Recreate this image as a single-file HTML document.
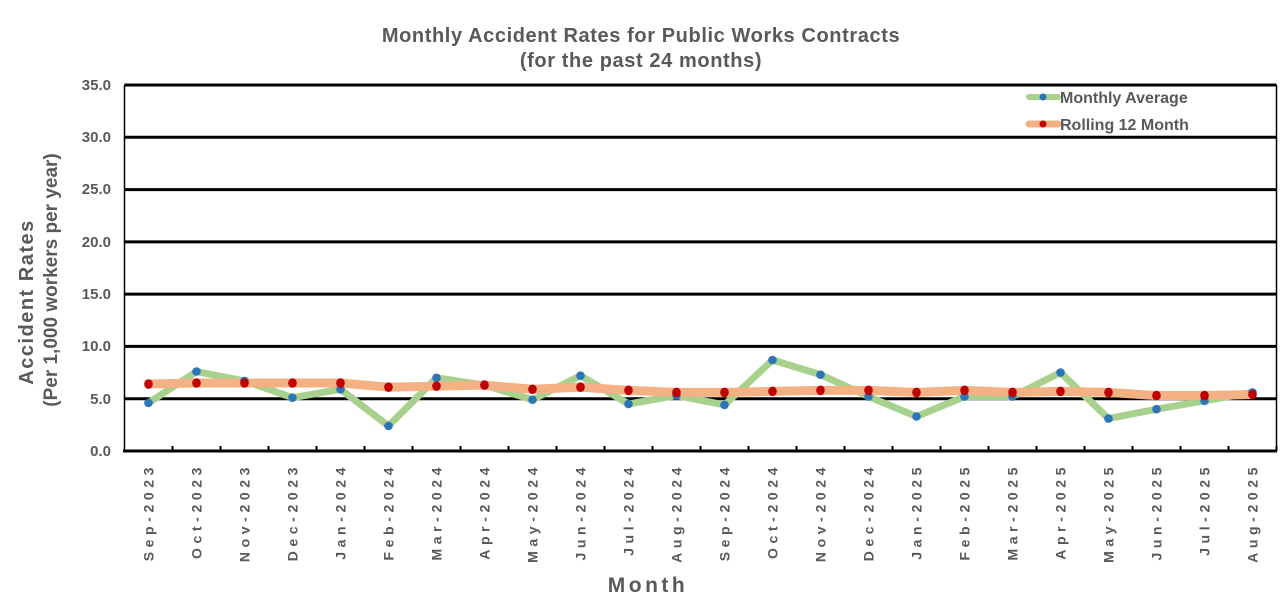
<!DOCTYPE html>
<html><head><meta charset="utf-8"><style>
html,body{margin:0;padding:0;background:#fff;}
svg{display:block;font-family:"Liberation Sans",Arial,sans-serif;}
</style></head><body>
<svg width="1288" height="611" viewBox="0 0 1288 611" xmlns="http://www.w3.org/2000/svg">
<rect width="1288" height="611" fill="#fff"/>
<text x="641" y="42" text-anchor="middle" font-size="20" font-weight="bold" fill="#595959" letter-spacing="0.6">Monthly Accident Rates for Public Works Contracts</text>
<text x="641" y="67" text-anchor="middle" font-size="20" font-weight="bold" fill="#595959" letter-spacing="0.6">(for the past 24 months)</text>
<g stroke="#000" stroke-width="3">
<line x1="124.5" y1="85" x2="1276.5" y2="85"/>
<line x1="124.5" y1="137.3" x2="1276.5" y2="137.3"/>
<line x1="124.5" y1="189.6" x2="1276.5" y2="189.6"/>
<line x1="124.5" y1="241.9" x2="1276.5" y2="241.9"/>
<line x1="124.5" y1="294.1" x2="1276.5" y2="294.1"/>
<line x1="124.5" y1="346.4" x2="1276.5" y2="346.4"/>
<line x1="124.5" y1="398.7" x2="1276.5" y2="398.7"/>
<line x1="123" y1="451" x2="1277" y2="451"/>
</g>
<line x1="124.5" y1="85" x2="124.5" y2="451" stroke="#000" stroke-width="1.5"/>
<line x1="1276.5" y1="85" x2="1276.5" y2="451" stroke="#000" stroke-width="1.5"/>
<g id="ticks" stroke="#000" stroke-width="2"></g>
<g font-size="15" font-weight="bold" fill="#595959" text-anchor="end">
<text x="111" y="90">35.0</text><text x="111" y="142">30.0</text><text x="111" y="194">25.0</text><text x="111" y="247">20.0</text><text x="111" y="299">15.0</text><text x="111" y="351">10.0</text><text x="111" y="404">5.0</text><text x="111" y="456">0.0</text>
</g>
<text transform="translate(33,302) rotate(-90)" text-anchor="middle" font-size="20" font-weight="bold" fill="#595959" letter-spacing="1.5">Accident Rates</text>
<text transform="translate(57,280) rotate(-90)" text-anchor="middle" font-size="19" font-weight="bold" fill="#595959">(Per 1,000 workers per year)</text>
<text x="648" y="592" text-anchor="middle" font-size="21" font-weight="bold" fill="#595959" letter-spacing="3.5">Month</text>
<g id="xl" font-size="14" font-weight="bold" fill="#595959" letter-spacing="4.6"></g>
<polyline id="m" fill="none" stroke="#a9d18e" stroke-width="7" stroke-linejoin="round"/>
<polyline id="r" fill="none" stroke="#f4b183" stroke-width="9" stroke-linejoin="round"/>
<g id="dots"></g>
<line x1="1029" y1="97" x2="1058" y2="97" stroke="#a9d18e" stroke-width="6" stroke-linecap="round"/>
<circle cx="1043" cy="97" r="3.5" fill="#2e75b6"/>
<text x="1060" y="103" font-size="16" font-weight="bold" fill="#595959">Monthly Average</text>
<line x1="1029" y1="124" x2="1058" y2="124" stroke="#f4b183" stroke-width="7" stroke-linecap="round"/>
<circle cx="1043" cy="124" r="3.5" fill="#c00000"/>
<text x="1060" y="130" font-size="16" font-weight="bold" fill="#595959">Rolling 12 Month</text>
<script>
var labs=["Sep-2023","Oct-2023","Nov-2023","Dec-2023","Jan-2024","Feb-2024","Mar-2024","Apr-2024","May-2024","Jun-2024","Jul-2024","Aug-2024","Sep-2024","Oct-2024","Nov-2024","Dec-2024","Jan-2025","Feb-2025","Mar-2025","Apr-2025","May-2025","Jun-2025","Jul-2025","Aug-2025"];
var m=[4.6,7.6,6.7,5.1,5.9,2.4,7.0,6.3,4.9,7.2,4.5,5.3,4.4,8.7,7.3,5.2,3.3,5.2,5.2,7.5,3.1,4.0,4.8,5.6];
var r=[6.4,6.5,6.5,6.5,6.5,6.1,6.2,6.3,5.9,6.1,5.8,5.6,5.6,5.7,5.8,5.8,5.6,5.8,5.6,5.7,5.6,5.3,5.3,5.4];
var NS="http://www.w3.org/2000/svg";
function X(i){return 148.5+48*i}function Y(v){return 451-v*10.46}
var pm=[],pr=[],t=document.getElementById("ticks"),xl=document.getElementById("xl"),d=document.getElementById("dots");
for(var i=0;i<24;i++){pm.push(X(i)+","+Y(m[i]));pr.push(X(i)+","+Y(r[i]));
var l=document.createElementNS(NS,"line");l.setAttribute("x1",124.5+48*(i+1));l.setAttribute("x2",124.5+48*(i+1));l.setAttribute("y1",446);l.setAttribute("y2",451);t.appendChild(l);
var tx=document.createElementNS(NS,"text");tx.setAttribute("transform","translate("+(X(i)+5)+",463) rotate(-90)");tx.setAttribute("text-anchor","end");tx.textContent=labs[i];xl.appendChild(tx);}
document.getElementById("m").setAttribute("points",pm.join(" "));
document.getElementById("r").setAttribute("points",pr.join(" "));
for(var i=0;i<24;i++){var c=document.createElementNS(NS,"circle");c.setAttribute("cx",X(i));c.setAttribute("cy",Y(m[i]));c.setAttribute("r",4.3);c.setAttribute("fill","#2e75b6");d.appendChild(c);}
for(var i=0;i<24;i++){var c=document.createElementNS(NS,"ellipse");c.setAttribute("cx",X(i));c.setAttribute("cy",Y(r[i]));c.setAttribute("rx",4.3);c.setAttribute("ry",4.8);c.setAttribute("fill","#c00000");d.appendChild(c);}
</script>
</svg>
</body></html>
